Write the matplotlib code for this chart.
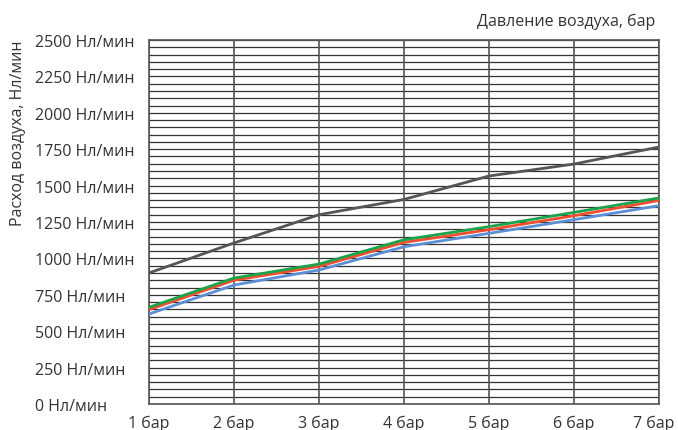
import numpy as np
import matplotlib
matplotlib.use("Agg")
import matplotlib.pyplot as plt
import matplotlib.transforms as mtransforms

plt.rcParams['font.family'] = ['Open Sans', 'DejaVu Sans']

bars = [1, 2, 3, 4, 5, 6, 7]
xlabels = ["1 бар", "2 бар", "3 бар", "4 бар", "5 бар", "6 бар", "7 бар"]
yticks = [0, 250, 500, 750, 1000, 1250, 1500, 1750, 2000, 2250, 2500]
ylabels = ["%d Нл/мин" % v for v in yticks]

gray_vals = [900, 1106, 1300, 1405, 1566, 1648, 1765]
green_vals = [664, 865, 961, 1128, 1218, 1316, 1415]
red_vals = [648, 850, 945, 1110, 1197, 1293, 1398]
blue_vals = [618, 817, 920, 1080, 1172, 1266, 1362]

fig = plt.figure(figsize=(6.78, 4.31), dpi=100)
W, H = 678, 431
ax = fig.add_axes([149 / W, 1 - 405 / H, (659 - 149) / W, (405 - 41) / H])

# dense horizontal grid, every 50
for v in np.arange(0, 2501, 50):
    ax.axhline(v, color='#333333', lw=0.9, zorder=1)
for b in bars:
    ax.axvline(b, color='#555555', lw=1.2, zorder=1)

ax.plot(bars, gray_vals, color='#555555', lw=2.0, zorder=3, solid_capstyle='butt')
ax.plot(bars, blue_vals, color='#5b8fd6', lw=2.0, zorder=3, solid_capstyle='butt')
ax.plot(bars, red_vals, color='#f04e30', lw=2.0, zorder=4, solid_capstyle='butt')
ax.plot(bars, green_vals, color='#1aa34a', lw=2.0, zorder=5, solid_capstyle='butt')

ax.set_xlim(1, 7)
ax.set_ylim(0, 2500)
for s in ax.spines.values():
    s.set_color('#555555')
    s.set_linewidth(1.2)

fs = 11.5
ax.set_xticks(bars)
ax.set_xticklabels(xlabels)
ax.set_yticks(yticks)
ax.set_yticklabels(ylabels)
ax.tick_params(length=0, labelsize=fs, colors='#333333')
ax.tick_params(axis='x', pad=8)
ax.tick_params(axis='y', pad=82)
for t in ax.get_yticklabels():
    t.set_horizontalalignment('left')
# nudge the last x label so it stays inside the figure
last = ax.get_xticklabels()[-1]
last.set_transform(last.get_transform() +
                   mtransforms.ScaledTranslation(-5 / 100, 0, fig.dpi_scale_trans))

fig.text(18 / W, 1 - 133 / H, "Расход воздуха, Нл/мин", rotation=90,
         ha='center', va='center', fontsize=fs, color='#333333')
fig.text(655 / W, 1 - 22 / H, "Давление воздуха, бар",
         ha='right', va='center', fontsize=fs, color='#333333')

fig.savefig("out.png", dpi=100)
